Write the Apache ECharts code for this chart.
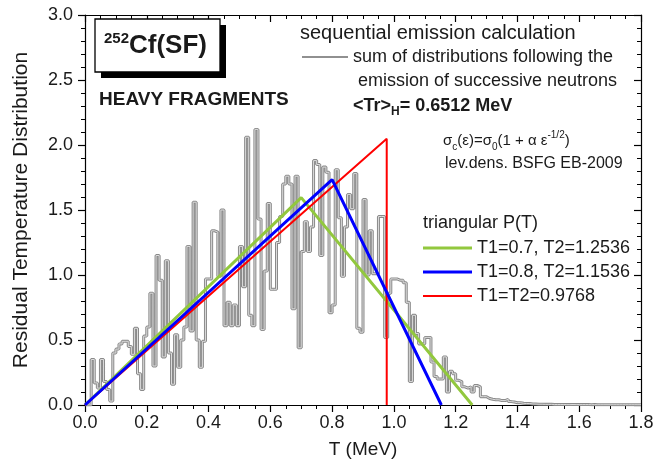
<!DOCTYPE html>
<html><head><meta charset="utf-8">
<script src="https://cdn.jsdelivr.net/npm/echarts@6/dist/echarts.min.js"></script>
<style>html,body{margin:0;padding:0;background:#fff}#c{width:670px;height:465px}</style>
</head><body><div id="c"></div>
<script>
// ---- data ----
const binWidth = 0.01; // MeV, histogram bins start at T = 0
const histValues = [
  0.00,0.00,0.35,0.17,0.13,0.35,0.18,0.12,0.03,0.40,
  0.43,0.47,0.49,0.49,0.45,0.39,0.59,0.24,0.12,0.53,
  0.60,0.86,0.30,1.15,0.96,0.37,1.11,0.40,0.16,0.54,
  0.29,0.50,0.60,1.22,0.57,1.56,0.50,0.29,0.49,0.97,
  0.97,1.34,1.33,0.99,1.50,0.61,0.79,0.61,0.77,0.61,
  1.22,0.91,2.06,0.69,0.61,2.12,1.43,0.58,1.03,1.55,
  0.89,0.89,1.25,1.45,1.70,1.76,1.70,0.74,1.76,0.44,
  1.18,1.41,1.18,1.37,1.88,1.85,1.15,1.83,1.79,0.71,
  0.77,1.81,1.44,0.99,1.37,1.62,1.51,1.78,0.59,0.56,
  1.58,1.00,1.34,1.01,1.01,1.45,1.45,0.52,0.86,0.97,
  0.97,0.96,0.96,0.94,0.79,0.18,0.69,0.55,0.47,0.47,
  0.52,0.52,0.33,0.22,0.20,0.20,0.37,0.10,0.26,0.24,
  0.19,0.18,0.14,0.13,0.14,0.10,0.15,0.14,0.064,0.064,
  0.050,0.044,0.040,0.040,0.034,0.034,0.044,0.026,0.023,0.018,
  0.018,0.013,0.011,0.011,0.008,0.007,0.006,0.006,0.005,0.005,
  0.005,0.004,0.004,0.004,0.004,0.003,0.003,0.004,0.003,0.003,
  0.003,0.003,0.003,0.002,0.003,0.002,0.002,0.002,0.002,0.002,
  0.002,0.002,0.002,0.002,0.002,0.002,0.002,0.002,0.002,0.002
];
// triangular P(T): [T, value]
const triGreen = [[0, 0], [0.7, 1.595], [1.2536, 0]];
const triBlue  = [[0, 0], [0.8, 1.734], [1.1536, 0]];
const triRed   = [[0, 0], [0.9768, 2.048], [0.9768, 0]];
const xTicks = { min: 0, max: 1.8, step: 0.2 };
const yTicks = { min: 0, max: 3.0, step: 0.5 };

// ---- chart ----
const histData = histValues.map((v, i) => [+(i * binWidth).toFixed(2), v]);
histData.push([xTicks.max, histValues[histValues.length - 1]]);

const txt = '#1a1a1a';
const font = 'Liberation Sans, Arial, sans-serif';
const chart = echarts.init(document.getElementById('c'), null, { renderer: 'canvas' });

function xAx(pos, inside, labels) {
  return {
    type: 'value', position: pos, min: xTicks.min, max: xTicks.max, interval: xTicks.step,
    axisLine: { show: true, onZero: false, lineStyle: { color: '#000', width: 1.2 } },
    axisTick: { show: true, inside: inside, length: 7, lineStyle: { color: '#000', width: 1.2 } },
    minorTick: { show: true, splitNumber: 4, length: 4, lineStyle: { color: '#000', width: 1 } },
    axisLabel: { show: labels, fontSize: 18, color: txt, fontFamily: font, margin: 9,
      formatter: v => v.toFixed(1) },
    splitLine: { show: false }, minorSplitLine: { show: false }
  };
}
function yAx(pos, inside, labels) {
  return {
    type: 'value', position: pos, min: yTicks.min, max: yTicks.max, interval: yTicks.step,
    axisLine: { show: true, onZero: false, lineStyle: { color: '#000', width: 1.2 } },
    axisTick: { show: true, inside: inside, length: 7, lineStyle: { color: '#000', width: 1.2 } },
    minorTick: { show: true, splitNumber: 5, length: 4, lineStyle: { color: '#000', width: 1 } },
    axisLabel: { show: labels, fontSize: 18, color: txt, fontFamily: font, margin: 12,
      formatter: v => v.toFixed(1) },
    splitLine: { show: false }, minorSplitLine: { show: false }
  };
}

const xb = xAx('bottom', false, true);
xb.name = 'T (MeV)'; xb.nameLocation = 'middle'; xb.nameGap = 35;
xb.nameTextStyle = { fontSize: 19, color: txt, fontFamily: font };
const yl = yAx('left', false, true);
yl.name = 'Residual Temperature Distribution'; yl.nameLocation = 'middle'; yl.nameGap = 53;
yl.nameTextStyle = { fontSize: 21, color: txt, fontFamily: font };

const line = (x1, y1, x2, y2, color, w) => ({ type: 'line', silent: true,
  shape: { x1, y1, x2, y2 }, style: { stroke: color, lineWidth: w } });
const text = (x, y, t, size, bold, extra) => Object.assign({ type: 'text', x, y,
  style: Object.assign({ text: t, fontSize: size, fontWeight: bold ? 'bold' : 'normal',
    fill: txt, fontFamily: font, verticalAlign: 'middle' }, extra || {}) });

const green = '#92c83e', blue = '#0000ff', red = '#ff0000';

chart.setOption({
  animation: false,
  grid: { left: 85, right: 29, top: 15, bottom: 60 },
  xAxis: [xb, xAx('top', true, false)],
  yAxis: [yl, yAx('right', true, false)],
  series: [
    { type: 'line', data: histData, step: 'end', showSymbol: false, silent: true,
      lineStyle: { color: '#8a8a8a', width: 3 }, z: 2 },
    { type: 'line', data: histData, step: 'end', showSymbol: false, silent: true,
      lineStyle: { color: '#dcdcdc', width: 1 }, z: 3 },
    { type: 'line', data: triGreen, showSymbol: false, silent: true,
      lineStyle: { color: green, width: 3 }, z: 4 },
    { type: 'line', data: triRed, showSymbol: false, silent: true,
      lineStyle: { color: red, width: 2 }, z: 5 },
    { type: 'line', data: triBlue, showSymbol: false, silent: true,
      lineStyle: { color: blue, width: 3 }, z: 6 }
  ],
  graphic: [
    { type: 'rect', shape: { x: 101, y: 25, width: 125, height: 53 }, style: { fill: '#000' }, z: 10 },
    { type: 'rect', shape: { x: 95, y: 19, width: 125, height: 53 },
      style: { fill: '#fff', stroke: '#000', lineWidth: 1.3 }, z: 11 },
    { type: 'text', x: 104, y: 46, z: 12, style: {
      text: '{sup|252}{big|Cf(SF)}', fontFamily: font, verticalAlign: 'middle',
      rich: {
        sup: { fontSize: 15, fontWeight: 'bold', fill: txt, fontFamily: font, verticalAlign: 'top', lineHeight: 14 },
        big: { fontSize: 26, fontWeight: 'bold', fill: txt, fontFamily: font, lineHeight: 30 }
      } } },
    text(99, 100, 'HEAVY FRAGMENTS', 19, true),
    text(300, 33, 'sequential emission calculation', 20, false),
    line(302, 57, 348, 57, '#909090', 2),
    text(353, 57, 'sum of distributions following the', 18, false),
    text(358, 81, 'emission of successive neutrons', 18, false),
    { type: 'text', x: 353, y: 106, z: 12, style: {
      text: '{b|<Tr>}{s|H}{b|= 0.6512 MeV}', fontFamily: font, verticalAlign: 'middle',
      rich: {
        b: { fontSize: 18, fontWeight: 'bold', fill: txt, fontFamily: font, lineHeight: 24 },
        s: { fontSize: 12, fontWeight: 'bold', fill: txt, fontFamily: font, verticalAlign: 'bottom', lineHeight: 12 }
      } } },
    { type: 'text', x: 443, y: 141, z: 12, style: {
      text: '{n|σ}{s|c}{n|(ε)=σ}{s|0}{n|(1 + α ε}{p|-1/2}{n|)}', fontFamily: font, verticalAlign: 'middle',
      rich: {
        n: { fontSize: 15, fill: txt, fontFamily: font, lineHeight: 22 },
        s: { fontSize: 10, fill: txt, fontFamily: font, verticalAlign: 'bottom', lineHeight: 10 },
        p: { fontSize: 10, fill: txt, fontFamily: font, verticalAlign: 'top', lineHeight: 10 }
      } } },
    text(445, 164, 'lev.dens. BSFG EB-2009', 16, false),
    text(423, 223, 'triangular P(T)', 18, false),
    line(423, 248, 472, 248, green, 3),
    text(477, 248, 'T1=0.7, T2=1.2536', 18, false),
    line(423, 272, 472, 272, blue, 3),
    text(477, 272, 'T1=0.8, T2=1.1536', 18, false),
    line(423, 296, 472, 296, red, 2),
    text(477, 296, 'T1=T2=0.9768', 18, false)
  ]
});
</script>
</body></html>
